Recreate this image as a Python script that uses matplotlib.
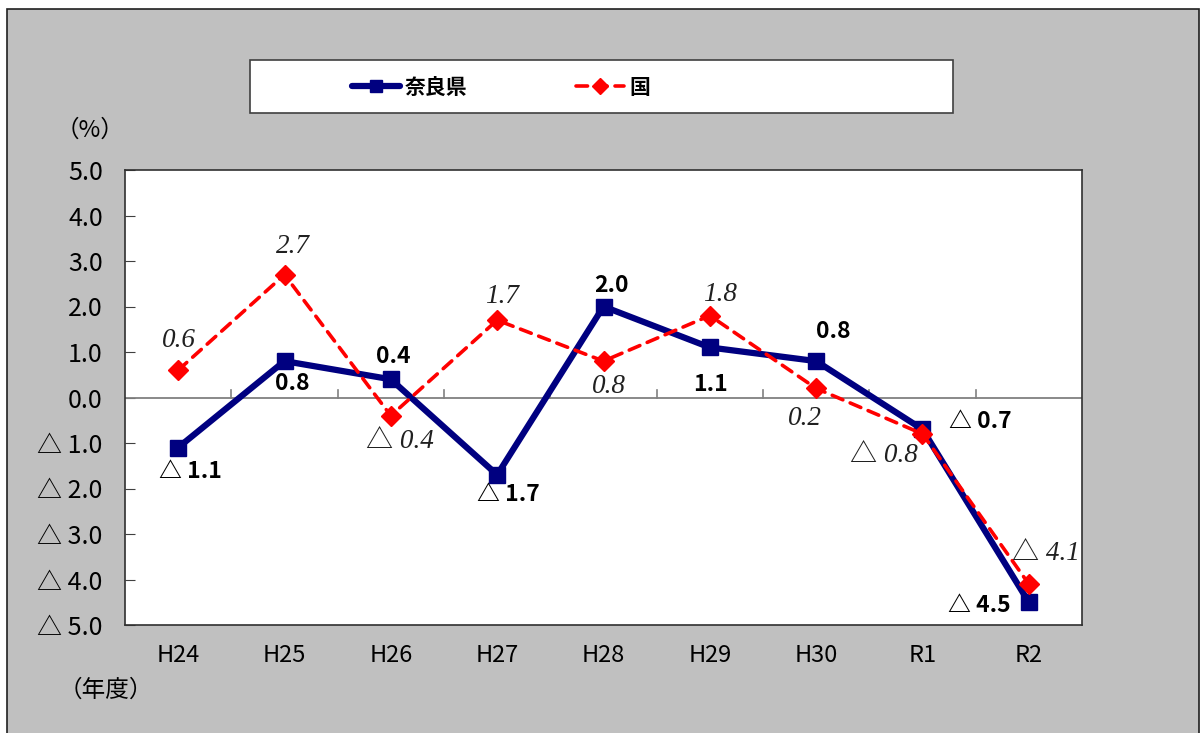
import matplotlib
matplotlib.use('Agg')
import matplotlib.pyplot as plt
from matplotlib.patches import Rectangle

plt.rcParams['font.family'] = ['Noto Sans CJK JP', 'DejaVu Sans']

# datos
anios = ['H24', 'H25', 'H26', 'H27', 'H28', 'H29', 'H30', 'R1', 'R2']
nara = [-1.1, 0.8, 0.4, -1.7, 2.0, 1.1, 0.8, -0.7, -4.5]
kuni = [0.6, 2.7, -0.4, 1.7, 0.8, 1.8, 0.2, -0.8, -4.1]
yticks = [5, 4, 3, 2, 1, 0, -1, -2, -3, -4, -5]
yticklabels = ['5.0', '4.0', '3.0', '2.0', '1.0', '0.0',
               '△ 1.0', '△ 2.0', '△ 3.0', '△ 4.0', '△ 5.0']

def etiqueta(v):
    return '△ %.1f' % abs(v) if v < 0 else '%.1f' % v

# desplazamientos de las etiquetas (pixeles)
off_nara = [(12, -24), (8, -22), (2, 23), (11, -20), (8, 21),
            (1, -37), (17, 30), (58, 8), (-50, -3)]
off_kuni = [(1, 30), (8, 28), (9, -26), (5, 24), (5, -25),
            (10, 21), (-11, -30), (-39, -22), (17, 31)]

fig = plt.figure(figsize=(12, 7.33), dpi=100)
fig.patch.set_facecolor('white')
fig.patches.append(Rectangle((7 / 1200, -0.01), 1192 / 1200, 1 - 9 / 733 + 0.01,
                             transform=fig.transFigure, facecolor='#C0C0C0',
                             edgecolor='#202020', lw=1.2, zorder=-2))
fig.patches.append(Rectangle((250 / 1200, 1 - 113 / 733), 703 / 1200, 53 / 733,
                             transform=fig.transFigure, facecolor='white',
                             edgecolor='#404040', lw=1.2, zorder=-1))

ax = fig.add_axes([125 / 1200, 1 - 625 / 733, 957 / 1200, 455 / 733])
ax.set_facecolor('white')
x = list(range(len(anios)))

ax.plot(x, nara, color='#000080', lw=4.5, marker='s', ms=12,
        label='奈良県', zorder=3, solid_capstyle='round')
ax.plot(x, kuni, color='#FF0000', lw=2.6, ls=(0, (3.2, 2.2)), marker='D', ms=10.5,
        label='国', zorder=4, dash_capstyle='round')

ax.axhline(0, color='#808080', lw=1.3, zorder=2)
for b in range(1, len(anios)):
    ax.plot([b - 0.5, b - 0.5], [0, 0.16], color='#808080', lw=1.2, zorder=2)

for i, v in enumerate(nara):
    ax.annotate(etiqueta(v), (i, v), xytext=off_nara[i], textcoords='offset pixels',
                ha='center', va='center', fontsize=16.5, fontweight='bold',
                color='black', zorder=5)
for i, v in enumerate(kuni):
    ax.annotate(etiqueta(v), (i, v), xytext=off_kuni[i], textcoords='offset pixels',
                ha='center', va='center', fontsize=19.5, fontstyle='italic',
                family=['Liberation Serif', 'Noto Sans CJK JP'],
                color='#202020', zorder=5)

ax.set_xlim(-0.5, len(anios) - 0.5)
ax.set_ylim(-5, 5)
ax.set_xticks(x)
ax.set_xticklabels(anios, fontsize=17)
ax.tick_params(axis='x', length=0, pad=14)
ax.set_yticks(yticks)
ax.set_yticklabels(yticklabels, fontsize=18)
ax.tick_params(axis='y', direction='in', length=7, pad=16, color='#404040')
for s in ax.spines.values():
    s.set_color('#303030')
    s.set_linewidth(1.2)

fig.text(90 / 1200, 1 - 130 / 733, '（%）', ha='center', va='center', fontsize=17)
fig.text(106 / 1200, 1 - 690 / 733, '（年度）', ha='center', va='center', fontsize=17)

fig.legend(loc='center', bbox_to_anchor=(501 / 1200, 1 - 87 / 733), ncol=2,
           frameon=False, handlelength=2.3, handletextpad=0.25, columnspacing=5.2,
           markerscale=0.75, prop={'weight': 'bold', 'size': 15})

fig.savefig('out.png', dpi=100)
